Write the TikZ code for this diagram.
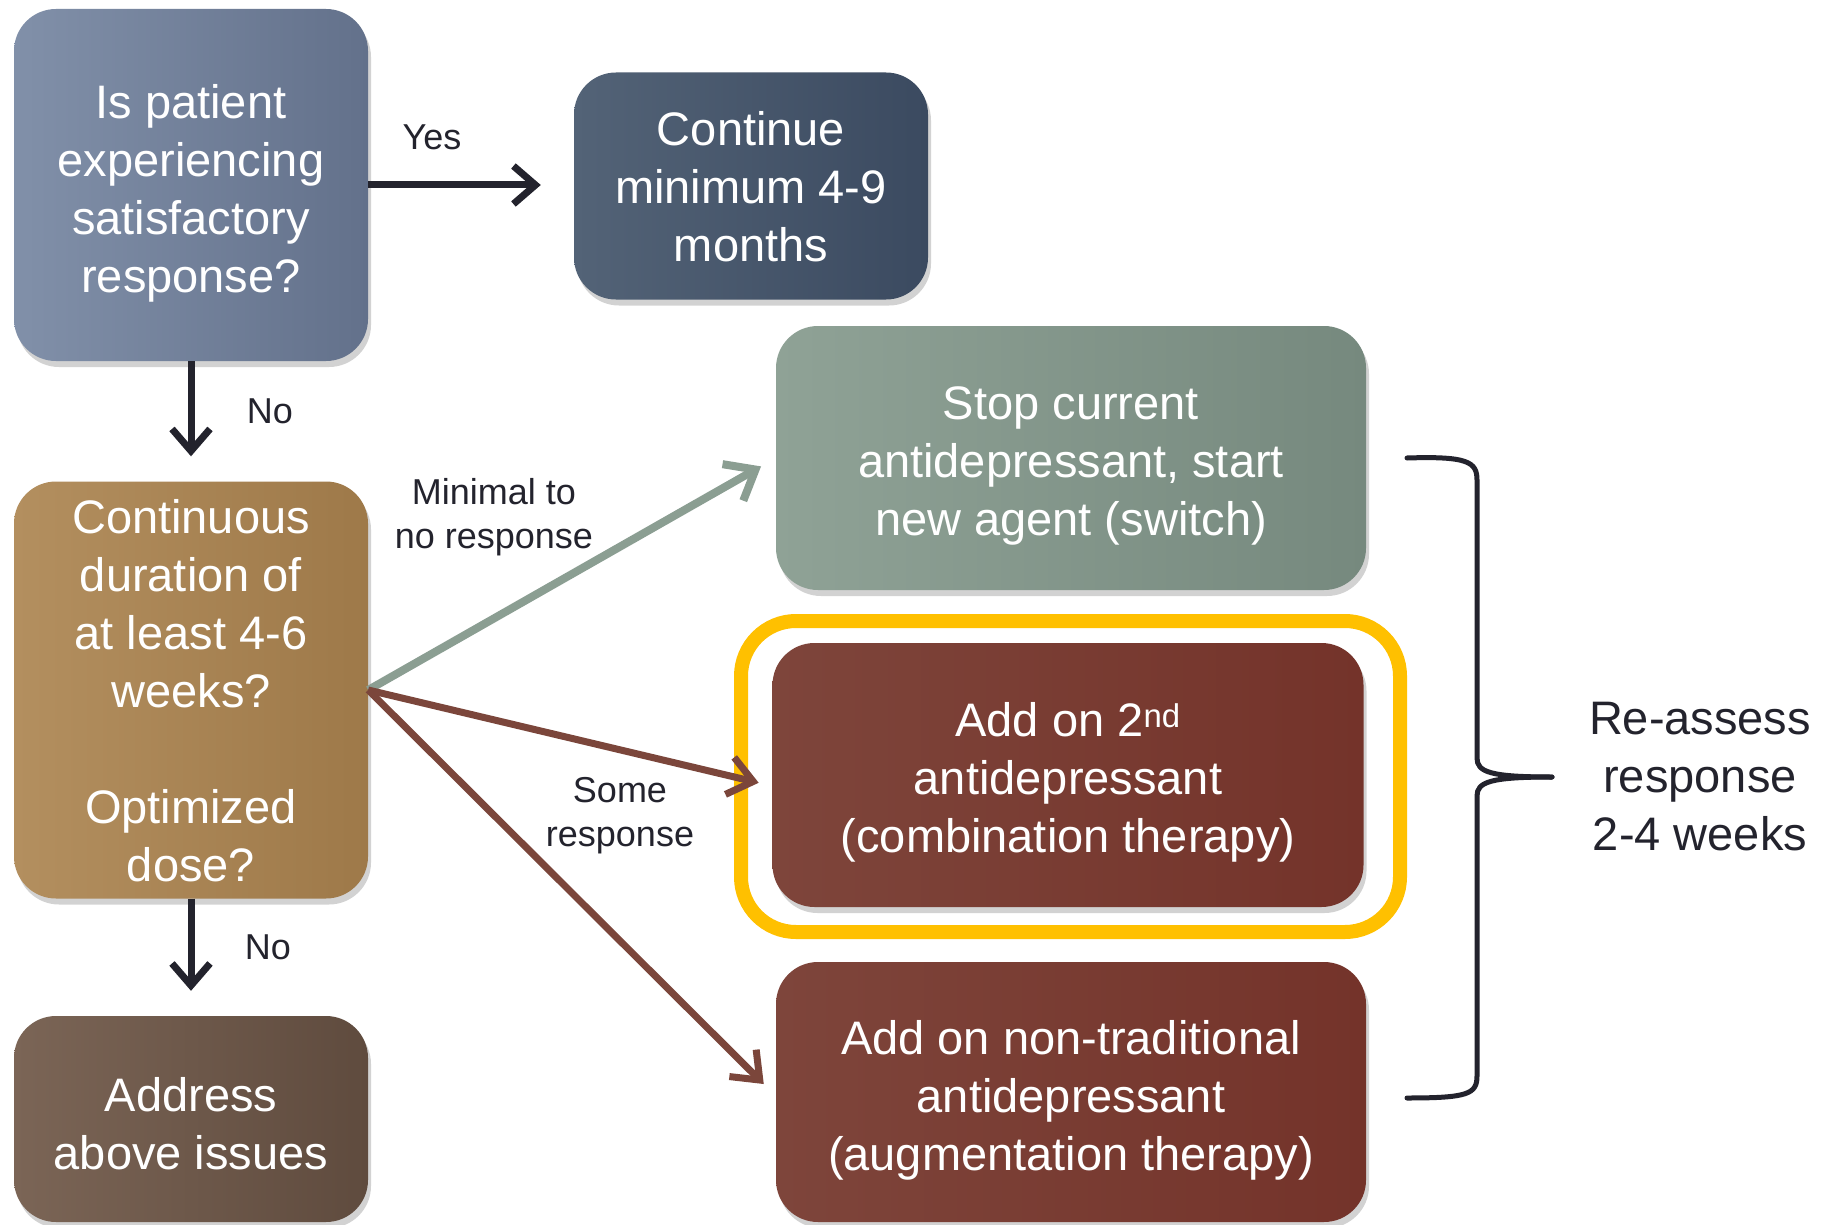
\documentclass[tikz,border=0pt]{standalone}
\usepackage{fontspec}
\setmainfont{Liberation Sans}
\usetikzlibrary{arrows.meta,shadows}
\definecolor{bOneL}{HTML}{8190A9}
\definecolor{bOneR}{HTML}{63718B}
\definecolor{bTwoL}{HTML}{536377}
\definecolor{bTwoR}{HTML}{3B4A60}
\definecolor{grnL}{HTML}{8FA296}
\definecolor{grnR}{HTML}{76897E}
\definecolor{redL}{HTML}{7E453B}
\definecolor{redR}{HTML}{74332A}
\definecolor{tanL}{HTML}{B38F5F}
\definecolor{tanR}{HTML}{9E7949}
\definecolor{brnL}{HTML}{7B6556}
\definecolor{brnR}{HTML}{5F4B3E}
\definecolor{ink}{HTML}{23232D}
\definecolor{grnArrow}{HTML}{8B9E92}
\definecolor{brnArrow}{HTML}{7B463B}
\definecolor{hlYellow}{HTML}{FFC000}
\begin{document}
\begin{tikzpicture}[x=1pt,y=-1pt,
  box/.style={rounded corners=42pt, align=center, text=white, inner sep=0pt,
    font=\fontsize{47}{58}\selectfont,
    drop shadow={shadow xshift=3pt,shadow yshift=-6pt,opacity=0.35}},
  lbl/.style={align=center, text=ink, inner sep=0pt, font=\fontsize{36}{44}\selectfont},
  darkarrow/.style={draw=ink, line width=7pt, -{Straight Barb[length=22pt,width=38pt]}},
  grnarrow/.style={draw=grnArrow, line width=8pt, -{Straight Barb[length=26pt,width=42pt]}},
  brnarrow/.style={draw=brnArrow, line width=7pt, -{Straight Barb[length=24pt,width=38pt]}},
  bracestyle/.style={draw=ink, line width=5pt, line cap=round}]
\useasboundingbox (0,0) rectangle (1826,1225);
\fill[white] (0,0) rectangle (1826,1225);

\node[box, left color=bOneL, right color=bOneR, minimum width=354pt, minimum height=352pt] (b1) at (191,185)
  {\rule{0pt}{50pt}Is patient\\experiencing\\satisfactory\\response?};
\node[box, left color=bTwoL, right color=bTwoR, minimum width=354pt, minimum height=227pt] (b2) at (751,186)
  {\rule{0pt}{36pt}Continue\\minimum 4-9\\months};
\node[box, left color=tanL, right color=tanR, minimum width=354pt, minimum height=417pt] (b6) at (191,690)
  {\rule{0pt}{36pt}Continuous\\duration of\\at least 4-6\\weeks?\\[58pt]Optimized\\dose?};
\node[box, left color=brnL, right color=brnR, minimum width=354pt, minimum height=206pt] (b7) at (191,1119)
  {\rule{0pt}{44pt}Address\\above issues};
\node[box, left color=grnL, right color=grnR, minimum width=590pt, minimum height=264pt] (b3) at (1071,458)
  {\rule{0pt}{49pt}Stop current\\antidepressant, start\\new agent (switch)};
\node[draw=hlYellow, line width=14pt, rounded corners=55pt, minimum width=659pt, minimum height=311pt] (hl) at (1070.5,776.5) {};
\node[box, left color=redL, right color=redR, minimum width=591pt, minimum height=264pt] (b4) at (1068,775)
  {\rule{0pt}{49pt}Add on 2\textsuperscript{nd}\\antidepressant\\(combination therapy)};
\node[box, left color=redL, right color=redR, minimum width=590pt, minimum height=260pt] (b5) at (1071,1092)
  {\rule{0pt}{50pt}Add on non-traditional\\antidepressant\\(augmentation therapy)};

% connectors
\draw[darkarrow, shorten >=33pt] (b1.east) -- (b1.east -| b2.west);
\draw[darkarrow, shorten >=25pt] (b1.south) -- (b6.north);
\draw[darkarrow, shorten >=25pt] (b6.south) -- (b7.north);
\draw[grnarrow, shorten >=17pt] (b6.east) -- (b3.west);
\coordinate (b4in) at ([yshift=-11pt]b4.west);
\draw[brnarrow, shorten >=14pt] (b6.east) -- (b4in);
\coordinate (b5in) at ([yshift=-4pt]b5.west);
\draw[brnarrow, shorten >=17pt] (b6.east) -- (b5in);

% labels
\node[lbl] (yes) at (432,137) {Yes};
\node[lbl] (no1) at (270,411) {No};
\node[lbl] (no2) at (268,947) {No};
\node[lbl] (minimal) at (494,517) {Minimal to\\no response};
\node[lbl] (some) at (620,816) {Some\\response};

% brace
\draw[bracestyle] (1407,458) .. controls (1468,456) and (1477,462) .. (1477,480) -- (1477,758)
  .. controls (1477,772) and (1490,777) .. (1552,777);
\draw[bracestyle] (1552,777) .. controls (1490,777) and (1477,782) .. (1477,796) -- (1477,1076)
  .. controls (1477,1094) and (1468,1098) .. (1407,1098);
\node[align=center, text=ink, inner sep=0pt, font=\fontsize{47}{58}\selectfont] (reassess) at (1700,777)
  {Re-assess\\response\\2-4 weeks};
\end{tikzpicture}
\end{document}
